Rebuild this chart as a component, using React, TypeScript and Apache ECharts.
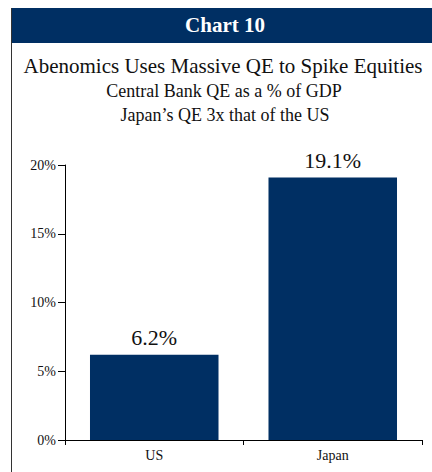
import React, { useEffect, useRef } from "react";
import * as echarts from "echarts";

const categories = ["US", "Japan"];
const qeValues = [6.2, 19.1];
const valueLabels = ["6.2%", "19.1%"];
const yTicks = [0, 5, 10, 15, 20];

const NAVY = "#002f63";
const FONT = "'Liberation Serif', 'DejaVu Serif', serif";

export default function App() {
  const ref = useRef<HTMLDivElement>(null);
  useEffect(() => {
    if (!ref.current) return;
    const chart = echarts.init(ref.current, null, { renderer: "svg" });
    chart.setOption({
      animation: false,
      backgroundColor: "#ffffff",
      textStyle: { fontFamily: FONT },
      graphic: [
        { type: "rect", shape: { x: 11, y: 8, width: 430, height: 35 }, style: { fill: NAVY }, z: 0 },
        { type: "line", shape: { x1: 11.5, y1: 8, x2: 11.5, y2: 472 }, style: { stroke: "#333", lineWidth: 1 } },
        { type: "text", x: 225, y: 25, style: { text: "Chart 10", fill: "#fff", font: `bold 21px ${FONT}`, textAlign: "center", textVerticalAlign: "middle" } },
        { type: "text", x: 223, y: 66, style: { text: "Abenomics Uses Massive QE to Spike Equities", fill: "#111", font: `21px ${FONT}`, textAlign: "center", textVerticalAlign: "middle" } },
        { type: "text", x: 224, y: 91, style: { text: "Central Bank QE as a % of GDP", fill: "#111", font: `18px ${FONT}`, textAlign: "center", textVerticalAlign: "middle" } },
        { type: "text", x: 225, y: 115, style: { text: "Japan\u2019s QE 3x that of the US", fill: "#111", font: `18px ${FONT}`, textAlign: "center", textVerticalAlign: "middle" } },
      ],
      grid: { left: 65, right: 10, top: 165, bottom: 32, containLabel: false },
      xAxis: {
        type: "category",
        data: categories,
        axisLine: { lineStyle: { color: "#000", width: 1 } },
        axisTick: { show: true, length: 5, lineStyle: { color: "#000" } },
        axisLabel: { color: "#111", fontSize: 14, fontFamily: FONT, margin: 8 },
      },
      yAxis: {
        type: "value",
        min: yTicks[0],
        max: yTicks[yTicks.length - 1],
        interval: 5,
        axisLine: { show: true, lineStyle: { color: "#000", width: 1 } },
        axisTick: { show: true, length: 7, lineStyle: { color: "#000" } },
        splitLine: { show: false },
        axisLabel: { color: "#111", fontSize: 14, fontFamily: FONT, margin: 9, formatter: (v: number) => `${v}%` },
      },
      series: [
        {
          type: "bar",
          data: qeValues,
          barCategoryGap: "28%",
          itemStyle: { color: NAVY },
          label: {
            show: true,
            position: "top",
            distance: 6,
            color: "#111",
            fontSize: 22,
            fontFamily: FONT,
            formatter: (p: any) => valueLabels[p.dataIndex],
          },
        },
      ],
    });
    return () => chart.dispose();
  }, []);
  return <div ref={ref} style={{ position: "fixed", left: 0, top: 0, width: 432, height: 472 }} />;
}
